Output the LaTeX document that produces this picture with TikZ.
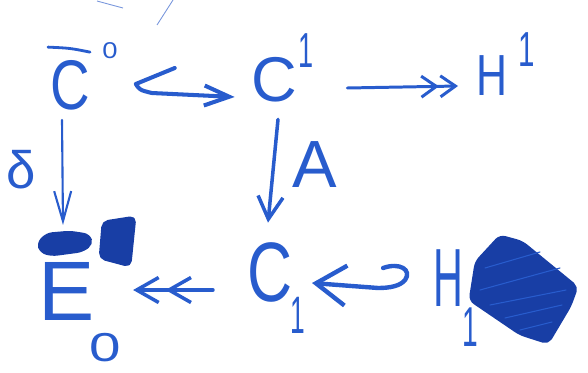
\documentclass[tikz,border=0pt]{standalone}
\usepackage{fontspec}
\setmainfont{Liberation Sans}
\usetikzlibrary{arrows.meta}
\definecolor{ink}{RGB}{40,92,205}
\definecolor{inkdark}{RGB}{24,62,165}
\definecolor{inkfaint}{RGB}{120,150,220}
\begin{document}
\begin{tikzpicture}[x=0.02cm,y=-0.02cm,
  glyph/.style={text=ink, inner sep=0pt, outer sep=0pt, font=\fontsize{#1}{#1}\selectfont},
  pen/.style={draw=ink, line width=#1, line cap=round, line join=round},
  pen/.default=2pt,
  blob/.style={fill=inkdark, draw=inkdark, line width=1.5pt, line join=round, rounded corners=3pt},
  scribble/.style={draw=ink, line width=0.6pt, line cap=round}
]
\useasboundingbox (0,0) rectangle (588,372);

% stray pen marks along the top edge
\draw[draw=inkfaint, line width=0.5pt] (97,1) .. controls (108,4) .. (123,8);
\draw[draw=inkfaint, line width=0.5pt] (173,0) -- (157,25);

% objects
\node[glyph=40] (C0) at (70,85) {\scalebox{0.78}[1]{C}};
\node[glyph=13] (C0sup) at (110,51) {\scalebox{1.2}[1]{0}};
\draw[pen=1.6pt] ([shift={(-22,-13)}]C0.north) .. controls ([shift={(0,-12)}]C0.north) .. ([shift={(20,-8)}]C0.north);

\node[glyph=36] (C1) at (274,80) {C};
\node[glyph=28] (C1sup) at (306,51) {\scalebox{0.55}[1]{1}};

\node[glyph=33] (H1) at (492,76) {\scalebox{0.74}[1]{H}};
\node[glyph=28] (H1sup) at (527,50) {\scalebox{0.6}[1]{1}};

\node[glyph=48] (E0) at (67,291) {E};
\node[glyph=23] (E0sub) at (105,348) {\scalebox{1.4}[1]{0}};
% scribbled-out bar and exponent on E
\fill[blob] (38,243) -- (47,234) -- (70,232) -- (89,235) -- (92,244) -- (82,251) -- (52,255) -- (41,252) -- cycle;
\fill[blob] (103,222) -- (135,217) -- (130,266) -- (100,258) -- cycle;

\node[glyph=48] (C1b) at (270,272) {\scalebox{0.74}[1]{C}};
\node[glyph=30] (C1bsub) at (298,315) {\scalebox{0.5}[1]{1}};

\node[glyph=47] (H1b) at (448,278) {\scalebox{0.5}[1]{H}};
\node[glyph=32] (H1bsub) at (470,327) {\scalebox{0.5}[1]{1}};
% scribbled-out block next to H
\fill[blob] (500,236) -- (522,242) -- (577,287) -- (570,306) -- (548,343) -- (520,334) -- (470,300) -- (476,262) -- cycle;
\draw[scribble] (485,268) -- (540,252) (480,290) -- (560,268) (490,305) -- (566,290) (505,318) -- (562,305) (520,330) -- (552,322);

% labels
\node[glyph=38] (labA) at (315,165) {A};
\node[glyph=30] (labD) at (21,170) {δ};

% maps
\draw[pen=2.3pt, -{Straight Barb[length=0.5cm,width=0.4cm]}]
  ([shift={(85,-17)}]C0.east) -- ([shift={(46,-1)}]C0.east)
  .. controls ([shift={(50,5)}]C0.east) .. ([shift={(62,8)}]C0.east)
  -- ([shift={(-16.5,17)}]C1.west);

\draw[pen=1.7pt, -{Straight Barb[length=0.3cm,width=0.42cm] Straight Barb[length=0.3cm,width=0.42cm]}]
  ([shift={(50.5,8)}]C1.east) -- ([shift={(-18.5,10)}]H1.west);

\draw[pen=1.2pt, -{Straight Barb[length=0.6cm,width=0.34cm]}]
  ([shift={(-8,10)}]C0.south) -- ([shift={(-4,-37)}]E0.north);

\draw[pen=2pt, -{Straight Barb[length=0.45cm,width=0.5cm]}]
  ([shift={(4,17)}]C1.south) -- ([shift={(-2,-19.5)}]C1b.north);

\draw[pen=2pt, -{Straight Barb[length=0.44cm,width=0.5cm,sep=0.1cm] Straight Barb[length=0.44cm,width=0.5cm]}]
  ([shift={(-34.5,18)}]C1b.west) -- ([shift={(38,-1)}]E0.east);

\draw[pen=2.5pt, -{Straight Barb[length=0.6cm,width=0.8cm]}]
  ([shift={(-50,-10)}]H1b.west) .. controls ([shift={(-33,-16)}]H1b.west) and ([shift={(-21,-8)}]H1b.west) .. ([shift={(-28,2)}]H1b.west)
  .. controls ([shift={(-33,8)}]H1b.west) and ([shift={(-43,10)}]H1b.west) .. ([shift={(-55,10)}]H1b.west)
  -- ([shift={(19.5,11)}]C1b.east);
\end{tikzpicture}
\end{document}
